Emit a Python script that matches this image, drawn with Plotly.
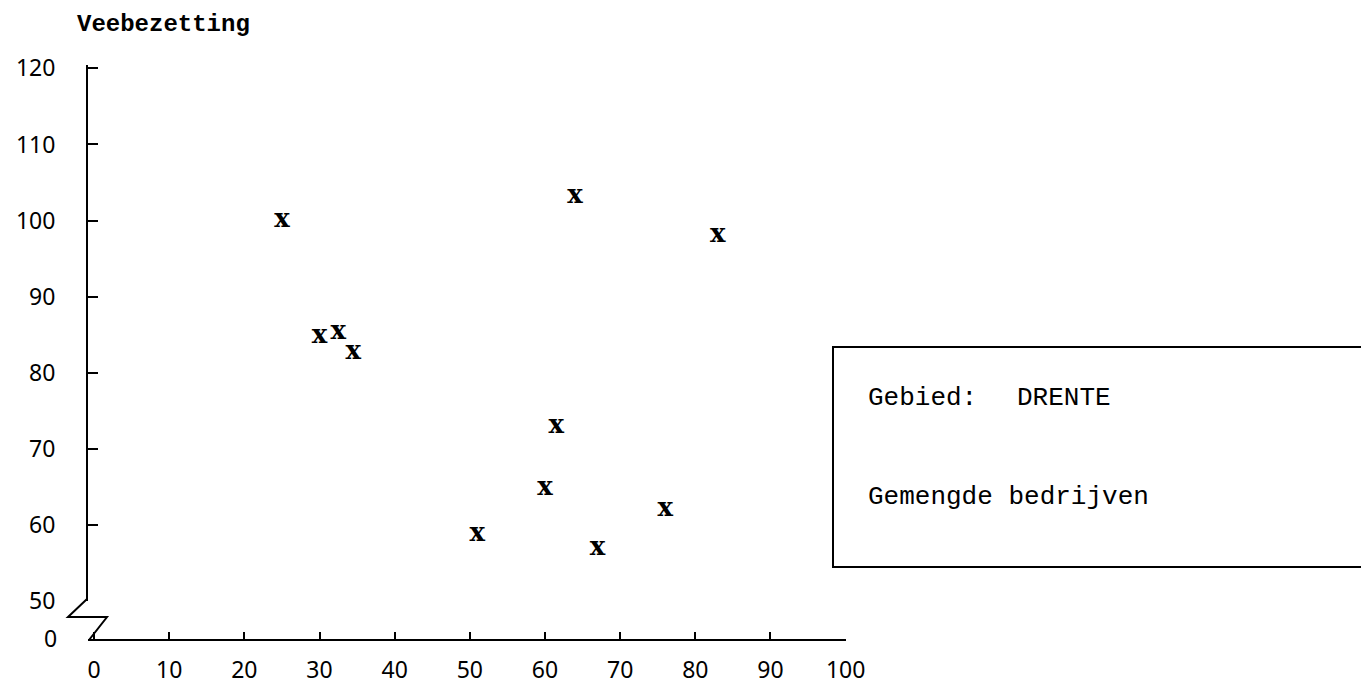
import plotly.graph_objects as go

# ---- data ----
aandeel = [25, 30, 32.5, 34.5, 64, 83, 61.5, 60, 51, 67, 76]          # x values
veebezetting = [100, 84.7, 85.3, 82.7, 103.2, 98, 72.9, 64.8, 58.8, 56.9, 62]  # y values
x_ticks = [0, 10, 20, 30, 40, 50, 60, 70, 80, 90, 100]
y_ticks = [50, 60, 70, 80, 90, 100, 110, 120]
y_title = "Veebezetting"
box_label = "Gebied:"
box_region = "DRENTE"
box_type = "Gemengde bedrijven"

# ---- layout geometry (reference-pixel coordinates) ----
OFF = 8                      # default page margin of the html body
W, H = 1369 - OFF, 688 - OFF
L, R, T, B = 88, 846, 65, 640
Y_AXIS_BOTTOM = 601


def px(x):
    return (x - L) / (R - L)


def py(y):
    return (B - y) / (B - T)


TYPE_FONT = "Liberation Mono, Courier New, monospace"
TICK_FONT = "Noto Sans, DejaVu Sans, sans-serif"

fig = go.Figure()
fig.add_trace(go.Scatter(
    x=aandeel, y=veebezetting, mode="text", text=["x"] * len(aandeel),
    textposition="middle center",
    textfont=dict(family="DejaVu Serif", size=26, color="black", weight="bold"),
    showlegend=False, hoverinfo="x+y",
))

fig.update_layout(
    width=W, height=H,
    margin=dict(l=L - OFF, r=1369 - R, t=T - OFF, b=688 - B, autoexpand=False),
    paper_bgcolor="white", plot_bgcolor="white",
    xaxis=dict(
        range=[-0.8, 100.05], tickvals=x_ticks, ticktext=[str(v) for v in x_ticks],
        showgrid=False, zeroline=False, showline=True, linecolor="black", linewidth=2,
        ticks="inside", ticklen=7, tickwidth=1.5, tickcolor="black",
        anchor="free", position=0, automargin=False,
        tickfont=dict(family=TICK_FONT, size=23, color="black"),
        ticklabelstandoff=9,
    ),
    yaxis=dict(
        range=[50, 120.44], domain=[py(Y_AXIS_BOTTOM), 1],
        tickvals=y_ticks, ticktext=[str(v) for v in y_ticks],
        showgrid=False, zeroline=False, showline=True, linecolor="black", linewidth=2,
        ticks="inside", ticklen=10, tickwidth=1.5, tickcolor="black",
        automargin=False,
        tickfont=dict(family=TICK_FONT, size=23, color="black"),
        ticklabelstandoff=26,
    ),
    shapes=[
        # axis break zigzag
        dict(type="path", xref="paper", yref="paper",
             path=f"M {px(87)} {py(599)} L {px(68)} {py(617)} L {px(107)} {py(617)} L {px(89)} {py(640)}",
             line=dict(color="black", width=2)),
        # legend box
        dict(type="rect", xref="paper", yref="paper",
             x0=px(833), x1=px(1362), y0=py(567), y1=py(347),
             line=dict(color="black", width=2), fillcolor="rgba(0,0,0,0)"),
    ],
    annotations=[
        dict(text=y_title, xref="paper", yref="paper", x=px(75), y=py(24),
             xanchor="left", yanchor="middle", showarrow=False,
             font=dict(family=TYPE_FONT, size=24, color="black", weight="bold")),
        dict(text="0", xref="paper", yref="paper", x=px(59), y=py(638),
             xanchor="right", yanchor="middle", showarrow=False,
             font=dict(family=TICK_FONT, size=23, color="black")),
        dict(text=box_label, xref="paper", yref="paper", x=px(866), y=py(398),
             xanchor="left", yanchor="middle", showarrow=False,
             font=dict(family=TYPE_FONT, size=26, color="black")),
        dict(text=box_region, xref="paper", yref="paper", x=px(1015), y=py(398),
             xanchor="left", yanchor="middle", showarrow=False,
             font=dict(family=TYPE_FONT, size=26, color="black")),
        dict(text=box_type, xref="paper", yref="paper", x=px(866), y=py(497),
             xanchor="left", yanchor="middle", showarrow=False,
             font=dict(family=TYPE_FONT, size=26, color="black")),
    ],
)

fig.write_html("out.html", config={"displayModeBar": False})
